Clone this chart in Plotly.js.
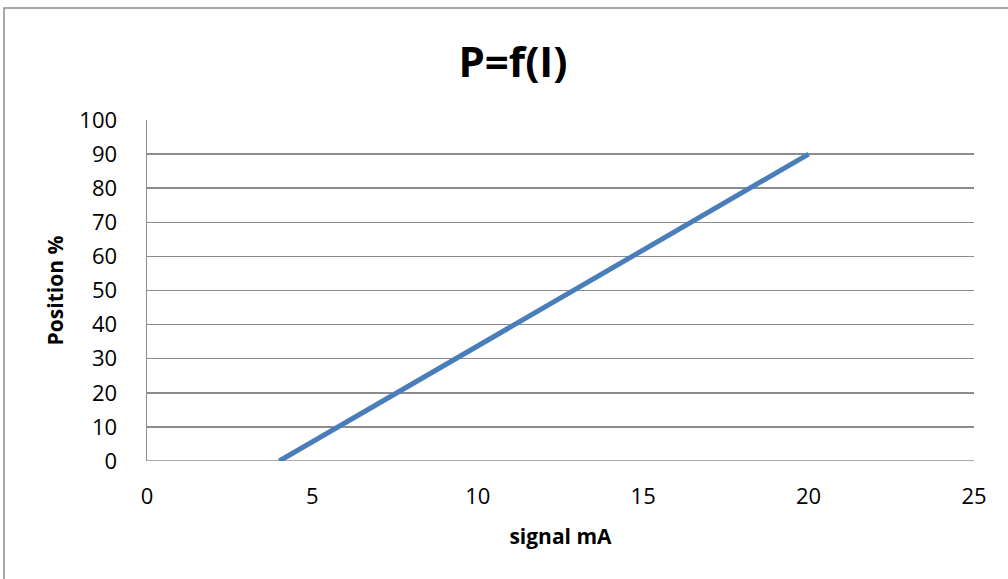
<!DOCTYPE html>
<html>
<head>
<meta charset="utf-8">
<script src="https://cdn.plot.ly/plotly-3.0.1.min.js"></script>
<style>
html,body{margin:0;padding:0;background:#fff;}
#chart{width:1008px;height:579px;}
</style>
</head>
<body>
<div id="chart"></div>
<script>
// Data
const signalMA = [4, 20];
const positionPct = [0, 90];
const xTicks = [0, 5, 10, 15, 20, 25];
const yTicks = [0, 10, 20, 30, 40, 50, 60, 70, 80, 90, 100];

const W = 1008, H = 579;
const L = 147, R = 34, T = 120, B = 118;
const pw = W - L - R, ph = H - T - B;
function px(x){ return (x - L) / pw; }
function py(y){ return (H - B - y) / ph; }

const trace = {
  x: signalMA, y: positionPct, type: 'scatter', mode: 'lines',
  line: {color: '#4a7ebb', width: 5},
  hoverinfo: 'none', showlegend: false
};

const layout = {
  width: W, height: H,
  margin: {l: L, r: R, t: T, b: B},
  paper_bgcolor: '#ffffff', plot_bgcolor: '#ffffff',
  font: {family: 'Open Sans, sans-serif', color: '#000'},
  title: {text: '<b>P=f(I)</b>', font: {size: 42, family: 'Open Sans, sans-serif', color: '#000'},
          xref: 'container', x: 513/W, xanchor: 'center', y: 1 - 62/H, yanchor: 'middle'},
  xaxis: {
    range: [0, 25], tickvals: xTicks, ticktext: xTicks.map(String),
    showgrid: false, zeroline: false, showline: false,
    ticks: '', tickfont: {size: 22}, ticklabelstandoff: 20,
    title: {text: '<b>signal mA</b>', font: {size: 21}, standoff: 20},
    fixedrange: true
  },
  yaxis: {
    range: [0, 100], tickvals: yTicks, ticktext: yTicks.map(String),
    showgrid: true, gridcolor: '#8c8c8c', gridwidth: 1.5,
    zeroline: false, showline: true, linecolor: '#8c8c8c', linewidth: 1.5,
    ticks: '', tickfont: {size: 22}, ticklabelstandoff: 24,
    title: {text: '<b>Position %</b>', font: {size: 21}, standoff: 10},
    fixedrange: true
  },
  shapes: [
    {type: 'rect', xref: 'paper', yref: 'paper',
     x0: px(4), x1: px(1015), y0: py(8), y1: py(600),
     line: {color: '#8a8a8a', width: 1.5}, fillcolor: 'rgba(0,0,0,0)', layer: 'below'},
    {type: 'line', xref: 'paper', yref: 'y', x0: 0, x1: 1, y0: 0, y1: 0,
     line: {color: '#8c8c8c', width: 1.5}, layer: 'below'}
  ]
};

Plotly.newPlot('chart', [trace], layout, {displayModeBar: false, staticPlot: true});
</script>
</body>
</html>
